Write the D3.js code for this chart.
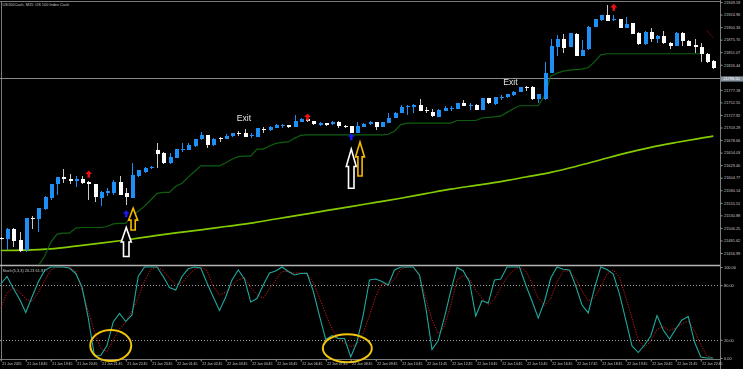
<!DOCTYPE html>
<html><head><meta charset="utf-8">
<script src="https://cdn.jsdelivr.net/npm/d3@7/dist/d3.min.js"></script>
<style>html,body{margin:0;padding:0;background:#000;overflow:hidden}svg{display:block}.gray-aa{-webkit-font-smoothing:antialiased;will-change:transform;opacity:0.999}</style>
</head><body>
<svg id="c" width="743" height="369"></svg>
<script>
// ---------- DATA (US100Cash M15) ----------
const chartTitle = "US100Cash, M15: US 100 Index Cash";
const stochTitle = "Stoch(5,3,3) 20.23 61.97";

const open = [21486,21485,21505,21482,21462,21526,21523,21544,21565,21592,
21606,21602,21599,21603,21597,21592,21565,21575,21574,21596,
21574,21565,21608,21616,21623,21659,21654,21633,21644,21660,
21660,21667,21680,21688,21668,21682,21681,21686,21692,21693,
21686,21685,21701,21698,21703,21706,21708,21705,21715,21719,
21716,21709,21712,21710,21715,21707,21706,21693,21705,21710,
21714,21705,21713,21722,21731,21743,21743,21748,21738,21734,
21723,21736,21740,21740,21752,21746,21748,21738,21761,21749,
21762,21763,21768,21773,21783,21782,21759,21759,21811,21862,
21877,21862,21887,21844,21857,21901,21914,21924,21914,21916,
21898,21908,21889,21867,21891,21877,21883,21870,21864,21889,
21874,21866,21861,21848,21833];
const high = [21489,21507,21506,21499,21526,21530,21545,21569,21592,21607,
21621,21613,21608,21608,21598,21593,21578,21584,21600,21609,
21584,21634,21620,21626,21627,21672,21655,21653,21662,21673,
21673,21681,21694,21689,21683,21685,21691,21693,21696,21700,
21692,21703,21705,21706,21710,21710,21709,21728,21721,21721,
21717,21714,21713,21716,21716,21708,21707,21715,21713,21717,
21715,21715,21731,21734,21748,21747,21749,21759,21743,21739,
21739,21746,21746,21752,21757,21751,21749,21762,21762,21764,
21768,21770,21774,21783,21785,21784,21770,21832,21876,21885,
21886,21889,21888,21875,21903,21916,21925,21944,21924,21917,
21921,21909,21891,21892,21898,21884,21893,21871,21890,21890,
21875,21876,21869,21849,21835];
const low = [21482,21463,21469,21459,21459,21505,21499,21542,21561,21571,
21594,21592,21587,21593,21561,21558,21549,21568,21570,21570,
21551,21565,21606,21614,21622,21623,21632,21632,21643,21656,
21659,21666,21679,21664,21667,21675,21680,21685,21687,21685,
21682,21684,21692,21696,21702,21702,21703,21704,21714,21715,
21708,21707,21707,21708,21702,21702,21692,21692,21704,21709,
21698,21704,21712,21721,21731,21728,21732,21736,21731,21724,
21723,21736,21736,21740,21745,21738,21737,21737,21749,21748,
21757,21761,21766,21772,21775,21758,21751,21757,21810,21844,
21849,21861,21843,21843,21856,21900,21913,21912,21913,21899,
21898,21886,21866,21866,21872,21870,21868,21857,21863,21864,
21863,21849,21831,21830,21818];
const close = [21485,21505,21480,21461,21525,21524,21545,21567,21592,21606,
21602,21599,21603,21595,21592,21566,21576,21579,21596,21571,
21566,21610,21619,21624,21626,21651,21633,21646,21661,21661,
21668,21680,21689,21668,21681,21681,21686,21692,21691,21685,
21688,21702,21699,21705,21709,21708,21705,21717,21720,21716,
21710,21712,21708,21715,21706,21706,21693,21707,21711,21715,
21704,21714,21722,21732,21743,21746,21748,21736,21737,21725,
21738,21741,21742,21751,21746,21748,21738,21761,21751,21763,
21763,21769,21772,21782,21782,21759,21769,21811,21863,21877,
21860,21888,21844,21855,21901,21916,21924,21913,21916,21899,
21906,21887,21867,21891,21877,21883,21869,21864,21889,21874,
21864,21861,21848,21831,21820];

// trailing stop (dark green), starts at bar 6
const trailStart = 6;
const trail = [21432,21450,21478,21494,21496,21496,21506,21507,21507,21507,
21507,21509,21514,21515,21515,21530,21539,21549,21561,21574,
21576,21576,21588,21594,21606,21617,21628,21628,21628,21628,
21634,21641,21646,21647,21647,21661,21661,21667,21672,21674,
21675,21682,21688,21689,21689,21689,21689,21689,21689,21689,
21689,21689,21689,21689,21689,21689,21690,21696,21709,21712,
21712,21712,21712,21712,21712,21712,21712,21717,21717,21717,
21717,21722,21723,21724,21726,21733,21740,21746,21746,21746,
21746,21765,21804,21810,21814,21816,21817,21818,21821,21832,
21846,21848,21848,21848,21848,21848,21848,21848,21848,21848,
21848,21848,21848,21848,21848,21848,21848];
// red trailing segment at the end
const redTrailBars = [113,114];
const redTrail = [21893,21879];

// long moving average (lime), read at these bars
const maBars = [0,4,8,12,16,20,24,28,32,36,40,44,48,52,56,60,64,68,72,76,80,84,88,92,96,100,104,108,112,114];
const maValues = [21461.9,21462.5,21465.0,21470.3,21476.2,21482.5,21489.6,21496.4,21502.3,21509.0,
21515.5,21523.7,21531.8,21540.0,21548.1,21556.3,21564.5,21573.4,21582.2,21589.7,
21597.1,21606.1,21615.2,21626.8,21639.9,21653.0,21664.4,21673.8,21682.3,21686.4];

// stochastic %K (main) and %D (signal)
const stochMain = [81.3,89.6,76.7,64.8,50,67,83.5,96,100,100,
100,98.9,92.9,78,44,2.2,2.7,13.7,39.6,48.9,
40.1,47.3,90,100,100,100,89.6,77.5,74.7,89.6,
98,100,98.9,82.4,67,52.2,67,85.7,96.7,86.8,
61.5,65.4,80.2,93.4,95.6,100,95,91.2,92.9,93.1,
73.6,46.2,20.3,24.7,21.4,21.4,1.1,17.6,47.3,85.7,
86.8,84,80.2,96.7,100,100,100,91.2,56,9.3,
19.2,45,73.6,99.5,95.6,83.5,46.2,62.9,60.4,85.7,
86.8,100,100,100,80.2,62.6,44,62.1,87.9,100,
97.5,96.7,79.1,58.2,49.5,76.9,100,97.3,92.3,70.3,
41.8,13.2,6,14.3,24.2,46.7,30.8,20.9,31.9,41.8,
45.6,17.6,1.1,0,0];
const stochSignal = [54.9,71.4,77.5,72.5,64.8,62.1,72,84.6,96.7,100,
100,100,95.6,74.7,51.6,28.6,10.4,7.1,19.8,31.9,
39.6,51.6,66.5,84.6,97.3,100,96,87.9,80.8,82.4,
90.7,97.3,100,96,79.1,69.2,72.5,80.2,85.7,88.5,
77.5,69.8,65.6,76.4,85.7,95,95,93.4,93.4,93.1,
83,65.9,48.4,31.9,21.6,16.5,12.3,15.4,27.5,46.7,
67.6,81.9,79.7,86.8,97.3,100,100,90,65.9,41.8,
26.9,35.2,58.2,85.7,90.7,86.8,74.7,65.9,58.2,64.8,
77.5,88.5,96,100,95.6,82.4,65.9,57.7,65.4,83.5,
95.6,95.6,86.8,74.2,62.6,66.5,78,92.3,96.7,88.5,
67,44,19.8,11.5,18.7,31.3,34.4,30.2,33,37.4,
40.7,29.7,14.8,2.2,0];
const stochLevels = [80,20];
const stochTicks = [100,80,20,0];

// axis ticks
const priceTicks = [21949.59,21924.96,21900.33,21875.70,21851.07,21826.44,21777.18,21752.55,21727.92,21703.29,
21678.66,21654.03,21629.40,21604.77,21580.14,21555.51,21530.88,21506.25,21481.62,21456.99];
const currentPrice = 21798.50;
const tickBars = [0,4,8,12,16,20,24,28,32,36,40,44,48,52,56,60,64,68,72,76,80,84,88,92,96,100,104,108,112];
const tickLabels = ["21 Jan 2025","21 Jan 18:45","21 Jan 19:45","21 Jan 20:45","21 Jan 21:45","21 Jan 22:45","21 Jan 23:45",
"22 Jan 01:45","22 Jan 02:45","22 Jan 03:45","22 Jan 04:45","22 Jan 05:45","22 Jan 06:45","22 Jan 07:45","22 Jan 08:45",
"22 Jan 09:45","22 Jan 10:45","22 Jan 11:45","22 Jan 12:45","22 Jan 13:45","22 Jan 14:45","22 Jan 15:45","22 Jan 16:45",
"22 Jan 17:45","22 Jan 18:45","22 Jan 19:45","22 Jan 20:45","22 Jan 21:45","22 Jan 22:45"];

// signal arrows
const redArrowBars = [14,49,98];
const redArrowPrices = [21619,21731,21946];
const blueArrowBars = [20,56];
const blueArrowPrices = [21541,21692];
// annotation arrows (outlined)
const noteArrowBars = [20,21.1,56,57.4];
const noteArrowTops = [21507,21545,21661,21675];
const noteArrowBottoms = [21450,21502,21584,21608];
const noteArrowKinds = ["white","yellow","white","yellow"];
// exit labels
const exitBars = [37.75,80.4];
const exitPrices = [21716.6,21786.7];
// circles on stochastic
const ellipseBars = [17.6,55.45];
const ellipseValues = [13.7,10.7];

// ---------- DRAWING ----------
const W = 743, H = 369;
const svg = d3.select("#c");
svg.append("rect").attr("width", W).attr("height", H).attr("fill", "#000");

const x = d3.scaleLinear().domain([0, 114]).range([0.75, 713.25]);
const yP = d3.scaleLinear().domain([21456.99, 21949.59]).range([253, 2]);
const yS = d3.scaleLinear().domain([0, 100]).range([358, 267]);

const defs = svg.append("defs");
defs.append("clipPath").attr("id", "clipP").append("rect").attr("x", 0).attr("y", 2).attr("width", 720).attr("height", 263);
defs.append("clipPath").attr("id", "clipS").append("rect").attr("x", 0).attr("y", 266).attr("width", 720).attr("height", 93.5);

const FONT = "'Liberation Sans', Arial, sans-serif";

// frame
const frame = svg.append("g").attr("stroke", "#7c7c7c").attr("stroke-width", 1).attr("shape-rendering", "crispEdges");
frame.append("line").attr("x1", 0).attr("x2", 720).attr("y1", 1.5).attr("y2", 1.5);
frame.append("line").attr("x1", 1.5).attr("x2", 1.5).attr("y1", 1).attr("y2", 360);
frame.append("line").attr("x1", 0).attr("x2", 720).attr("y1", 359.5).attr("y2", 359.5);
frame.append("line").attr("x1", 720.5).attr("x2", 720.5).attr("y1", 0).attr("y2", 369);
svg.append("line").attr("x1", 0).attr("x2", 720).attr("y1", 265.5).attr("y2", 265.5)
  .attr("stroke", "#b4b4b4").attr("stroke-width", 1.6);

// current price line
svg.append("line").attr("x1", 0).attr("x2", 720).attr("y1", yP(currentPrice)).attr("y2", yP(currentPrice))
  .attr("stroke", "#8a8a8a").attr("stroke-width", 1).attr("shape-rendering", "crispEdges");

const gP = svg.append("g").attr("clip-path", "url(#clipP)");

// moving average
gP.append("path").datum(maBars.map((b, i) => [b, maValues[i]]))
  .attr("fill", "none").attr("stroke", "#84cc00").attr("stroke-width", 1.7)
  .attr("d", d3.line().x(d => x(d[0])).y(d => yP(d[1])).curve(d3.curveMonotoneX));

// trailing stop
gP.append("path").datum(trail.map((v, i) => [trailStart + i, v]))
  .attr("fill", "none").attr("stroke", "#0f5e10").attr("stroke-width", 1.2)
  .attr("d", d3.line().x(d => x(d[0])).y(d => yP(d[1])));
gP.append("path").datum(redTrailBars.map((b, i) => [b, redTrail[i]]))
  .attr("fill", "none").attr("stroke", "#b01010").attr("stroke-width", 1).attr("stroke-dasharray", "1.2,1")
  .attr("d", d3.line().x(d => x(d[0])).y(d => yP(d[1])));

// candles
const bars = d3.range(open.length);
const gc = gP.selectAll("g.c").data(bars).join("g").attr("class", "c").attr("shape-rendering", "crispEdges");
gc.append("line")
  .attr("x1", i => Math.round(x(i)) + 0.5).attr("x2", i => Math.round(x(i)) + 0.5)
  .attr("y1", i => yP(high[i])).attr("y2", i => yP(low[i]))
  .attr("stroke", i => close[i] >= open[i] ? "#1e8ff5" : "#c8c8c8").attr("stroke-width", 1);
gc.append("rect")
  .attr("x", i => Math.round(x(i)) - 1.5).attr("width", 4)
  .attr("y", i => Math.min(yP(open[i]), yP(close[i])))
  .attr("height", i => Math.max(1, Math.abs(yP(open[i]) - yP(close[i]))))
  .attr("fill", i => close[i] >= open[i] ? "#1e8ff5" : "#ffffff");

// small signal arrows
function smallArrow(cx, top) {
  return `M${cx},${top} L${cx + 3.5},${top + 3.6} L${cx + 1.3},${top + 3.6} L${cx + 1.3},${top + 7} L${cx - 1.3},${top + 7} L${cx - 1.3},${top + 3.6} L${cx - 3.5},${top + 3.6} Z`;
}
svg.append("g").selectAll("path").data(redArrowBars).join("path")
  .attr("d", (b, i) => smallArrow(x(b) + 0.5, yP(redArrowPrices[i]))).attr("fill", "#ee1111");
svg.append("g").selectAll("path").data(blueArrowBars).join("path")
  .attr("d", (b, i) => smallArrow(x(b) + 0.5, yP(blueArrowPrices[i]))).attr("fill", "#1a1af0");

// annotation arrows
const arrowStyle = {
  white: { color: "#ffffff", w: 10, head: 14.5, shaft: 5.5 },
  yellow: { color: "#f4b800", w: 9, head: 12, shaft: 4.2 }
};
function bigArrow(cx, top, bottom, s, idx) {
  const hw = s.w / 2, sw = s.shaft / 2, hh = idx >= 2 ? s.head + 3 : s.head;
  return `M${cx},${top} L${cx + hw},${top + hh} L${cx + sw},${top + hh} L${cx + sw},${bottom} L${cx - sw},${bottom} L${cx - sw},${top + hh} L${cx - hw},${top + hh} Z`;
}
svg.append("g").selectAll("path").data(noteArrowBars).join("path")
  .attr("d", (b, i) => bigArrow(x(b) + 0.5, yP(noteArrowTops[i]), yP(noteArrowBottoms[i]), arrowStyle[noteArrowKinds[i]], i))
  .attr("fill", "#000").attr("stroke", (b, i) => arrowStyle[noteArrowKinds[i]].color)
  .attr("stroke-width", 1.6).attr("stroke-linejoin", "miter");

// exit labels
svg.append("g").attr("class", "gray-aa").selectAll("text").data(exitBars).join("text")
  .attr("x", b => x(b)).attr("y", (b, i) => yP(exitPrices[i]))
  .attr("font-family", FONT).attr("font-size", 8.6).attr("fill", "#e6e6e6").text("Exit");

// title
svg.append("text").attr("x", 2.5).attr("y", 5.6).attr("font-family", FONT).attr("font-size", 3.9)
  .attr("fill", "#c4c4c4").text(chartTitle);

// price axis
const axP = svg.append("g").attr("transform", "translate(720.5,0)")
  .call(d3.axisRight(yP).tickValues(priceTicks).tickFormat(d => d.toFixed(2)).tickSize(2).tickPadding(1.5));
axP.select(".domain").remove();
axP.selectAll("line").attr("stroke", "#9a9a9a");
axP.selectAll("text").attr("font-family", FONT).attr("font-size", 3.9).attr("fill", "#c4c4c4");

// current price tag
svg.append("rect").attr("x", 721).attr("y", yP(currentPrice) - 2.6).attr("width", 22).attr("height", 5.2).attr("fill", "#8592a0");
svg.append("text").attr("x", 723.5).attr("y", yP(currentPrice) + 1.3).attr("font-family", FONT).attr("font-size", 3.9)
  .attr("fill", "#ffffff").text(currentPrice.toFixed(2));

// ---- stochastic panel ----
const gS = svg.append("g");
gS.selectAll("line.lv").data(stochLevels).join("line").attr("class", "lv")
  .attr("x1", 0).attr("x2", 720).attr("y1", d => Math.round(yS(d)) + 0.5).attr("y2", d => Math.round(yS(d)) + 0.5)
  .attr("stroke", "#a0a0a0").attr("stroke-width", 1).attr("stroke-dasharray", "1,2");
const gSc = gS.append("g").attr("clip-path", "url(#clipS)");
gSc.append("path").datum(stochSignal)
  .attr("fill", "none").attr("stroke", "#c01818").attr("stroke-width", 1).attr("stroke-dasharray", "1.3,1.3")
  .attr("d", d3.line().x((d, i) => x(i)).y(d => yS(d)));
gSc.append("path").datum(stochMain)
  .attr("fill", "none").attr("stroke", "#1fa89e").attr("stroke-width", 1.1)
  .attr("d", d3.line().x((d, i) => x(i)).y(d => yS(d)));

gS.append("text").attr("x", 2.5).attr("y", 271.6).attr("font-family", FONT).attr("font-size", 3.9)
  .attr("fill", "#c4c4c4").text(stochTitle);

const axS = svg.append("g").attr("transform", "translate(720.5,0)")
  .call(d3.axisRight(yS).tickValues(stochTicks).tickFormat(d3.format(".2f")).tickSize(2).tickPadding(1.5));
axS.select(".domain").remove();
axS.selectAll("line").attr("stroke", "#9a9a9a");
axS.selectAll("text").attr("font-family", FONT).attr("font-size", 3.9).attr("fill", "#c4c4c4");

// ellipses
svg.append("g").selectAll("ellipse").data(ellipseBars).join("ellipse")
  .attr("cx", b => x(b)).attr("cy", (b, i) => yS(ellipseValues[i]))
  .attr("rx", (b, i) => i === 0 ? 20.5 : 24.5).attr("ry", (b, i) => i === 0 ? 15.5 : 14)
  .attr("fill", "none").attr("stroke", "#f2c40c").attr("stroke-width", 2);

// time axis
const axT = svg.append("g").attr("transform", "translate(0,359.5)")
  .call(d3.axisBottom(x).tickValues(tickBars).tickFormat((d, i) => tickLabels[i]).tickSize(2).tickPadding(1));
axT.select(".domain").remove();
axT.selectAll("line").attr("stroke", "#9a9a9a");
axT.selectAll("text").attr("font-family", FONT).attr("font-size", 3.5).attr("fill", "#c4c4c4")
  .attr("text-anchor", "start").attr("dx", 1);
</script>
</body></html>
